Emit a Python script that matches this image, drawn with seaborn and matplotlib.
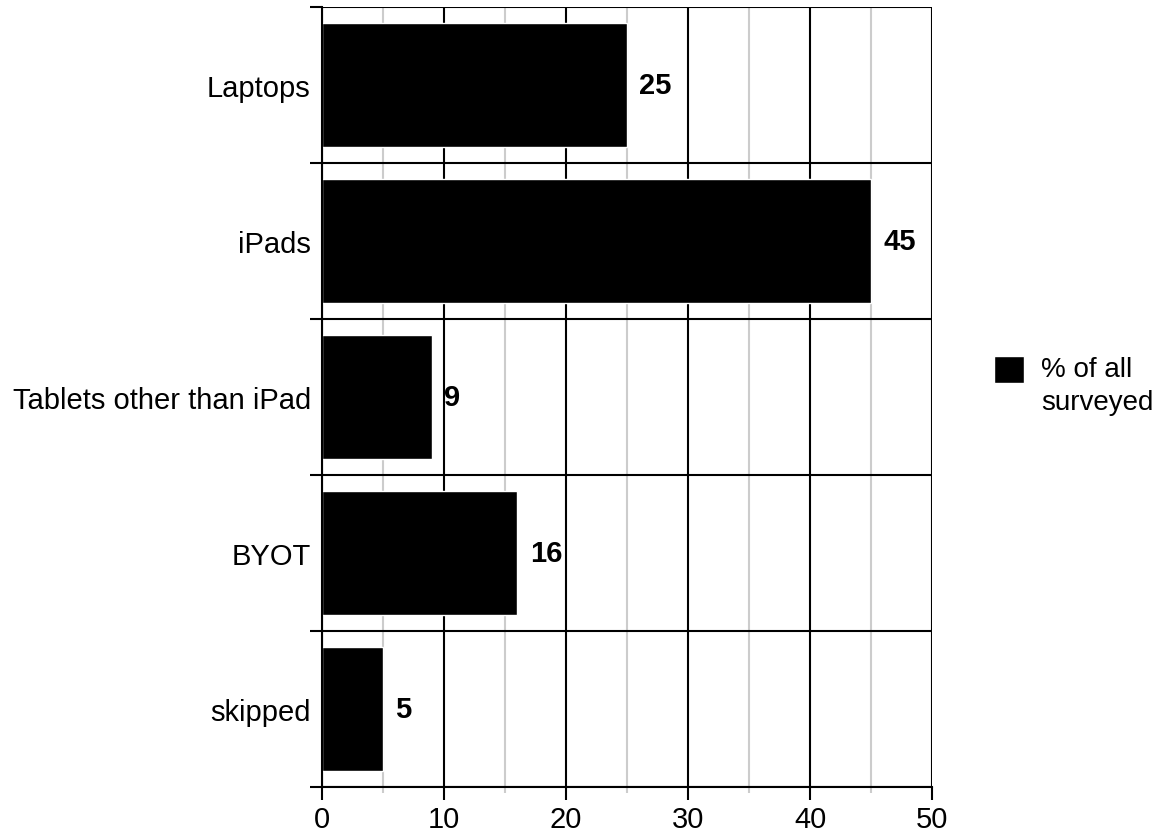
import pandas as pd
import matplotlib.pyplot as plt
import matplotlib.patches as mpatches
from matplotlib.legend_handler import HandlerPatch
import seaborn as sns
from matplotlib.ticker import MultipleLocator, FixedLocator

# --- data ---
categories = ['Laptops', 'iPads', 'Tablets other than iPad', 'BYOT', 'skipped']
values = [25, 45, 9, 16, 5]
series_name = '% of all\nsurveyed'

df = pd.DataFrame({'device': categories, 'pct': values, 'series': series_name})

sns.set_theme(style="white")
plt.rcParams['font.family'] = ['Liberation Sans', 'DejaVu Sans']
plt.rcParams['text.color'] = 'black'

FS = 21

fig = plt.figure(figsize=(11.61, 8.37), dpi=100)
ax = fig.add_axes([0.2773, 0.0585, 0.8028 - 0.2773, 0.9904 - 0.0585])

sns.barplot(data=df, x='pct', y='device', hue='series', palette=['black'],
            orient='h', width=0.8, ax=ax, saturation=1)

ax.set_xlim(0, 50)
ax.set_ylim(len(categories) - 0.5, -0.5)
ax.set_axisbelow(True)

# x grid: black majors, gray minors
ax.xaxis.set_major_locator(MultipleLocator(10))
ax.xaxis.set_minor_locator(FixedLocator([5, 15, 25, 35, 45]))
ax.grid(True, axis='x', which='major', color='black', lw=1.5)
ax.grid(True, axis='x', which='minor', color='#cccccc', lw=1.5)
ax.tick_params(axis='x', which='major', length=9, width=1.5, color='black',
               labelsize=FS, labelcolor='black', pad=4, bottom=True)
ax.tick_params(axis='x', which='minor', length=4, width=1.5, color='#cccccc', bottom=True)

# y: labels at centers, ticks + lines at category boundaries
ax.yaxis.set_minor_locator(FixedLocator([i - 0.5 for i in range(len(categories) + 1)]))
ax.grid(True, axis='y', which='minor', color='black', lw=1.5)
ax.tick_params(axis='y', which='major', length=0, labelsize=FS, labelcolor='black', pad=8)
ax.tick_params(axis='y', which='minor', length=9, width=1.5, color='black', left=True)

for side in ['top', 'right']:
    ax.spines[side].set_visible(False)
for side in ['left', 'bottom']:
    ax.spines[side].set_color('black')
    ax.spines[side].set_linewidth(1.5)

ax.set_xlabel('')
ax.set_ylabel('')

for c in ax.containers:
    ax.bar_label(c, labels=[str(v) for v in values], padding=9,
                 fontsize=FS, fontweight='bold', color='black')


# legend swatch sits next to the first text line
def top_square(legend, orig_handle, xdescent, ydescent, width, height, fontsize):
    return mpatches.Rectangle((-xdescent, -ydescent + height * 0.6), width * 1.08, height * 1.08)


handles, labels = ax.get_legend_handles_labels()
leg = ax.legend(handles, labels, loc='center left', bbox_to_anchor=(1.06, 0.515),
                frameon=False, fontsize=20, handlelength=1.0, handleheight=1.0,
                handletextpad=0.7, labelcolor='black',
                handler_map={mpatches.Rectangle: HandlerPatch(patch_func=top_square)})
for t in leg.get_texts():
    t.set_linespacing(1.35)

fig.savefig('out.png', dpi=100)
